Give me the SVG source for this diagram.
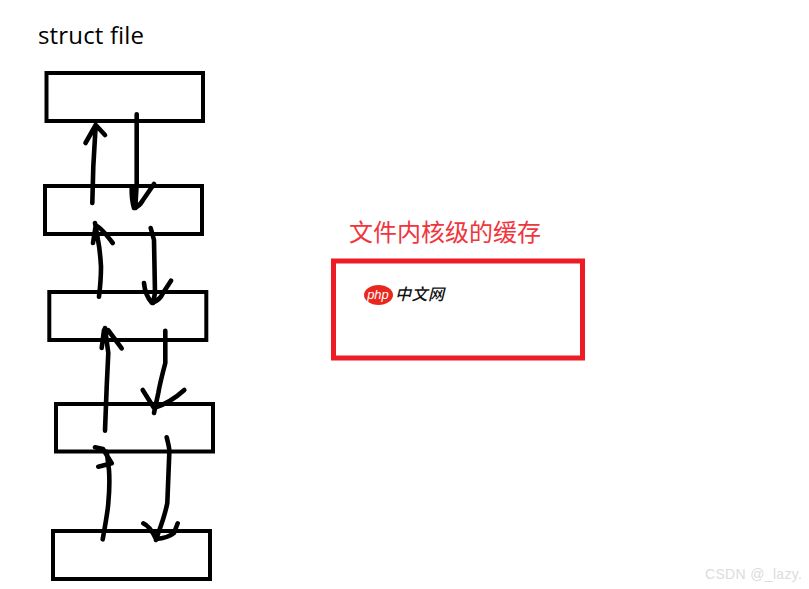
<svg xmlns="http://www.w3.org/2000/svg" width="809" height="589" viewBox="0 0 809 589">
<style>
.box{fill:none;stroke:#000;stroke-width:4}
.ln{fill:none;stroke:#000;stroke-width:4.600;stroke-linecap:round;stroke-linejoin:round}
.t{font-family:"Open Sans","Noto Sans CJK SC",sans-serif}
.cjk{font-family:"Noto Sans CJK SC",sans-serif}
</style>
<rect width="809" height="589" fill="#fff"/>
<text class="t" x="38" y="44" font-size="24" fill="#000" textLength="106">struct file</text>
<g id="node1"><rect class="box" x="46.500" y="73" width="156.500" height="48"/></g>
<g id="node2"><rect class="box" x="45" y="186" width="157" height="48"/></g>
<g id="node3"><rect class="box" x="49.300" y="292" width="157" height="48"/></g>
<g id="node4"><rect class="box" x="56" y="404" width="157" height="47.500"/></g>
<g id="node5"><rect class="box" x="53" y="531" width="157" height="48"/></g>
<g id="connectors">
<path class="ln" d="M92.300 203L93.300 166.700L95.700 125M85.500 143L95.700 125L105 135"/>
<path class="ln" d="M136.700 114.300V183L135.300 208M131.700 188Q131.500 200 134 208Q139 207 143 200L154 184"/>
<path class="ln" d="M99 296.700Q101 280 101 266.700Q100 250 98 240L95 223M93 243L95.700 225.700Q100 226 112.700 243"/>
<path class="ln" d="M150.700 228L154 240L155 293L153 303M144 283Q145 295 152 303Q160 300 163 293L171 280.700"/>
<path class="ln" d="M105 430.700L106.700 386.700L108.300 353L105 328M101.700 348L104 330L108 330L121.700 348.300"/>
<path class="ln" d="M165.300 330.700V363Q160 383 158.300 393L154 413M142.700 390L154 408Q170 403 184.300 390"/>
<path class="ln" d="M102.700 539.300Q108 510 108.300 503Q110 485 109 470L106.700 451.700M95 447.300L103 449L111.700 463.300L98.300 466.700"/>
<path class="ln" d="M166.700 437.300Q170 450 169.300 453L167.300 503Q165 515 158.300 533L156 540M143.300 523.300Q150 526 156 539Q168 538 174 533L177.700 523.300"/>
</g>
<text class="cjk" x="349" y="241" font-size="24" fill="#f0353d">文件内核级的缓存</text>
<g id="cache"><rect x="333.500" y="261" width="249" height="97" fill="none" stroke="#ed1c24" stroke-width="5"/></g>
<g id="logo">
<ellipse cx="378.500" cy="295" rx="14.500" ry="10" fill="#e8281f"/>
<text x="378" y="299" font-family="Liberation Sans,sans-serif" font-size="13" font-style="italic" fill="#fff" text-anchor="middle">php</text>
<text class="cjk" x="395" y="300" font-size="16" font-style="italic" font-weight="500" fill="#111" textLength="49">中文网</text>
</g>
<text x="705" y="579" font-family="Liberation Sans,sans-serif" font-size="14" fill="#dcdcdc" textLength="97">CSDN @_lazy.</text>
</svg>
